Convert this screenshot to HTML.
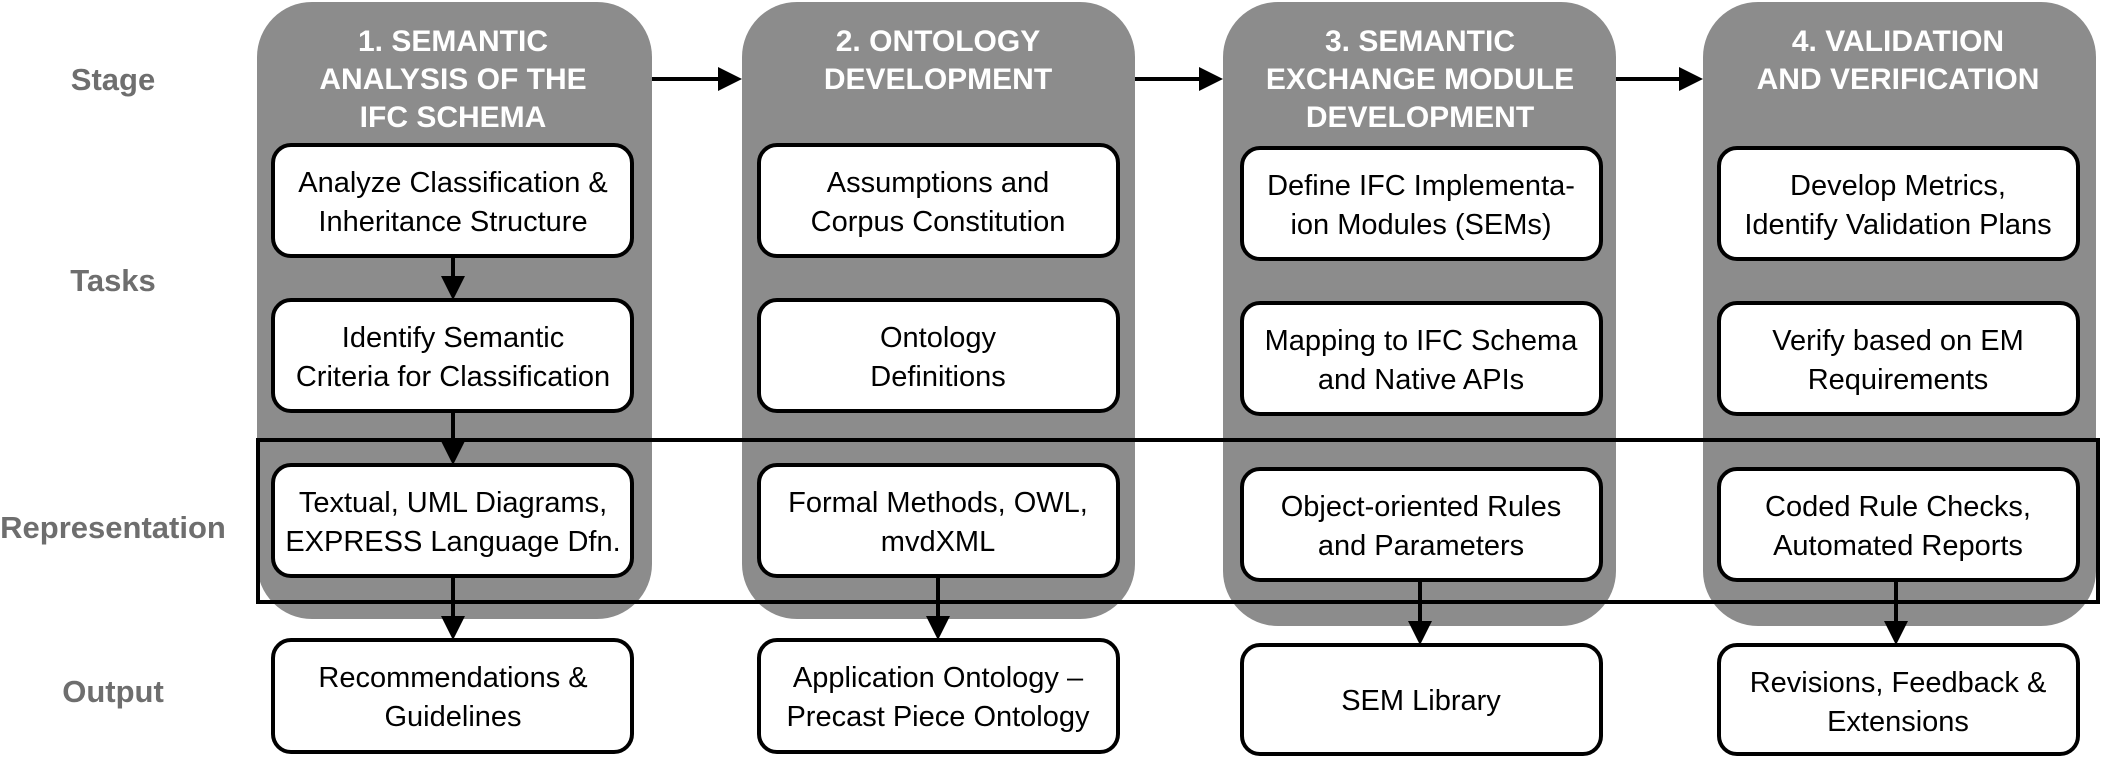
<!DOCTYPE html>
<html><head><meta charset="utf-8"><style>
html,body{margin:0;padding:0;background:#fff;}
svg{display:block;}
.lab{font-family:"Liberation Sans",sans-serif;font-weight:bold;font-size:31px;fill:#6e6e6e;text-anchor:middle;}
.ttl{font-family:"Liberation Sans",sans-serif;font-weight:bold;font-size:30px;fill:#fff;text-anchor:middle;}
.bx{fill:#fff;stroke:#000;stroke-width:4;}
.t{font-family:"Liberation Sans",sans-serif;font-size:29px;fill:#000;text-anchor:middle;}
.ln{stroke:#000;stroke-width:4;fill:none;}
</style></head><body>
<svg width="2101" height="760" viewBox="0 0 2101 760" xmlns="http://www.w3.org/2000/svg">
<defs><marker id="a" markerWidth="6" markerHeight="6" refX="5" refY="3" orient="auto" markerUnits="strokeWidth"><path d="M0,0 L6,3 L0,6 z" fill="#000"/></marker></defs>

<text class="lab" x="113" y="90">Stage</text>
<text class="lab" x="113" y="291">Tasks</text>
<text class="lab" x="113" y="538">Representation</text>
<text class="lab" x="113" y="702">Output</text>

<rect x="257" y="2" width="395" height="617" rx="55" fill="#8c8c8c"/>
<rect x="742" y="2" width="393" height="617" rx="55" fill="#8c8c8c"/>
<rect x="1223" y="2" width="393" height="624" rx="55" fill="#8c8c8c"/>
<rect x="1703" y="2" width="393" height="624" rx="55" fill="#8c8c8c"/>

<text class="ttl" x="453" y="51">1. SEMANTIC</text>
<text class="ttl" x="453" y="89">ANALYSIS OF THE</text>
<text class="ttl" x="453" y="127">IFC SCHEMA</text>
<text class="ttl" x="938" y="51">2. ONTOLOGY</text>
<text class="ttl" x="938" y="89">DEVELOPMENT</text>
<text class="ttl" x="1420" y="51">3. SEMANTIC</text>
<text class="ttl" x="1420" y="89">EXCHANGE MODULE</text>
<text class="ttl" x="1420" y="127">DEVELOPMENT</text>
<text class="ttl" x="1898" y="51">4. VALIDATION</text>
<text class="ttl" x="1898" y="89">AND  VERIFICATION</text>

<line class="ln" x1="652" y1="79" x2="738" y2="79" marker-end="url(#a)"/>
<line class="ln" x1="1135" y1="79" x2="1219" y2="79" marker-end="url(#a)"/>
<line class="ln" x1="1616" y1="79" x2="1699" y2="79" marker-end="url(#a)"/>

<line class="ln" x1="453" y1="256" x2="453" y2="296" marker-end="url(#a)"/>
<line class="ln" x1="453" y1="411" x2="453" y2="461" marker-end="url(#a)"/>
<line class="ln" x1="453" y1="576" x2="453" y2="636" marker-end="url(#a)"/>
<line class="ln" x1="938" y1="576" x2="938" y2="636" marker-end="url(#a)"/>
<line class="ln" x1="1420" y1="580" x2="1420" y2="641" marker-end="url(#a)"/>
<line class="ln" x1="1896" y1="580" x2="1896" y2="641" marker-end="url(#a)"/>

<rect class="bx" x="273" y="145" width="359" height="111" rx="18"/>
<text class="t" x="453" y="192">Analyze Classification &amp;</text><text class="t" x="453" y="231">Inheritance Structure</text>
<rect class="bx" x="273" y="300" width="359" height="111" rx="18"/>
<text class="t" x="453" y="347">Identify Semantic</text><text class="t" x="453" y="386">Criteria for Classification</text>
<rect class="bx" x="273" y="465" width="359" height="111" rx="18"/>
<text class="t" x="453" y="512">Textual, UML Diagrams,</text><text class="t" x="453" y="551">EXPRESS Language Dfn.</text>
<rect class="bx" x="273" y="640" width="359" height="112" rx="18"/>
<text class="t" x="453" y="687">Recommendations &amp;</text><text class="t" x="453" y="726">Guidelines</text>

<rect class="bx" x="759" y="145" width="359" height="111" rx="18"/>
<text class="t" x="938" y="192">Assumptions and</text><text class="t" x="938" y="231">Corpus Constitution</text>
<rect class="bx" x="759" y="300" width="359" height="111" rx="18"/>
<text class="t" x="938" y="347">Ontology</text><text class="t" x="938" y="386">Definitions</text>
<rect class="bx" x="759" y="465" width="359" height="111" rx="18"/>
<text class="t" x="938" y="512">Formal Methods, OWL,</text><text class="t" x="938" y="551">mvdXML</text>
<rect class="bx" x="759" y="640" width="359" height="112" rx="18"/>
<text class="t" x="938" y="687">Application Ontology –</text><text class="t" x="938" y="726">Precast Piece Ontology</text>

<rect class="bx" x="1242" y="148" width="359" height="111" rx="18"/>
<text class="t" x="1421" y="195">Define IFC Implementa-</text><text class="t" x="1421" y="234">ion Modules (SEMs)</text>
<rect class="bx" x="1242" y="303" width="359" height="111" rx="18"/>
<text class="t" x="1421" y="350">Mapping to IFC Schema</text><text class="t" x="1421" y="389">and Native APIs</text>
<rect class="bx" x="1242" y="469" width="359" height="111" rx="18"/>
<text class="t" x="1421" y="516">Object-oriented Rules</text><text class="t" x="1421" y="555">and Parameters</text>
<rect class="bx" x="1242" y="645" width="359" height="109" rx="18"/>
<text class="t" x="1421" y="710">SEM Library</text>

<rect class="bx" x="1719" y="148" width="359" height="111" rx="18"/>
<text class="t" x="1898" y="195">Develop Metrics,</text><text class="t" x="1898" y="234">Identify Validation Plans</text>
<rect class="bx" x="1719" y="303" width="359" height="111" rx="18"/>
<text class="t" x="1898" y="350">Verify based on EM</text><text class="t" x="1898" y="389">Requirements</text>
<rect class="bx" x="1719" y="469" width="359" height="111" rx="18"/>
<text class="t" x="1898" y="516">Coded Rule Checks,</text><text class="t" x="1898" y="555">Automated Reports</text>
<rect class="bx" x="1719" y="645" width="359" height="109" rx="18"/>
<text class="t" x="1898" y="692">Revisions, Feedback &amp;</text><text class="t" x="1898" y="731">Extensions</text>

<rect x="258" y="440" width="1840" height="162" fill="none" stroke="#000" stroke-width="4"/>
</svg>
</body></html>
